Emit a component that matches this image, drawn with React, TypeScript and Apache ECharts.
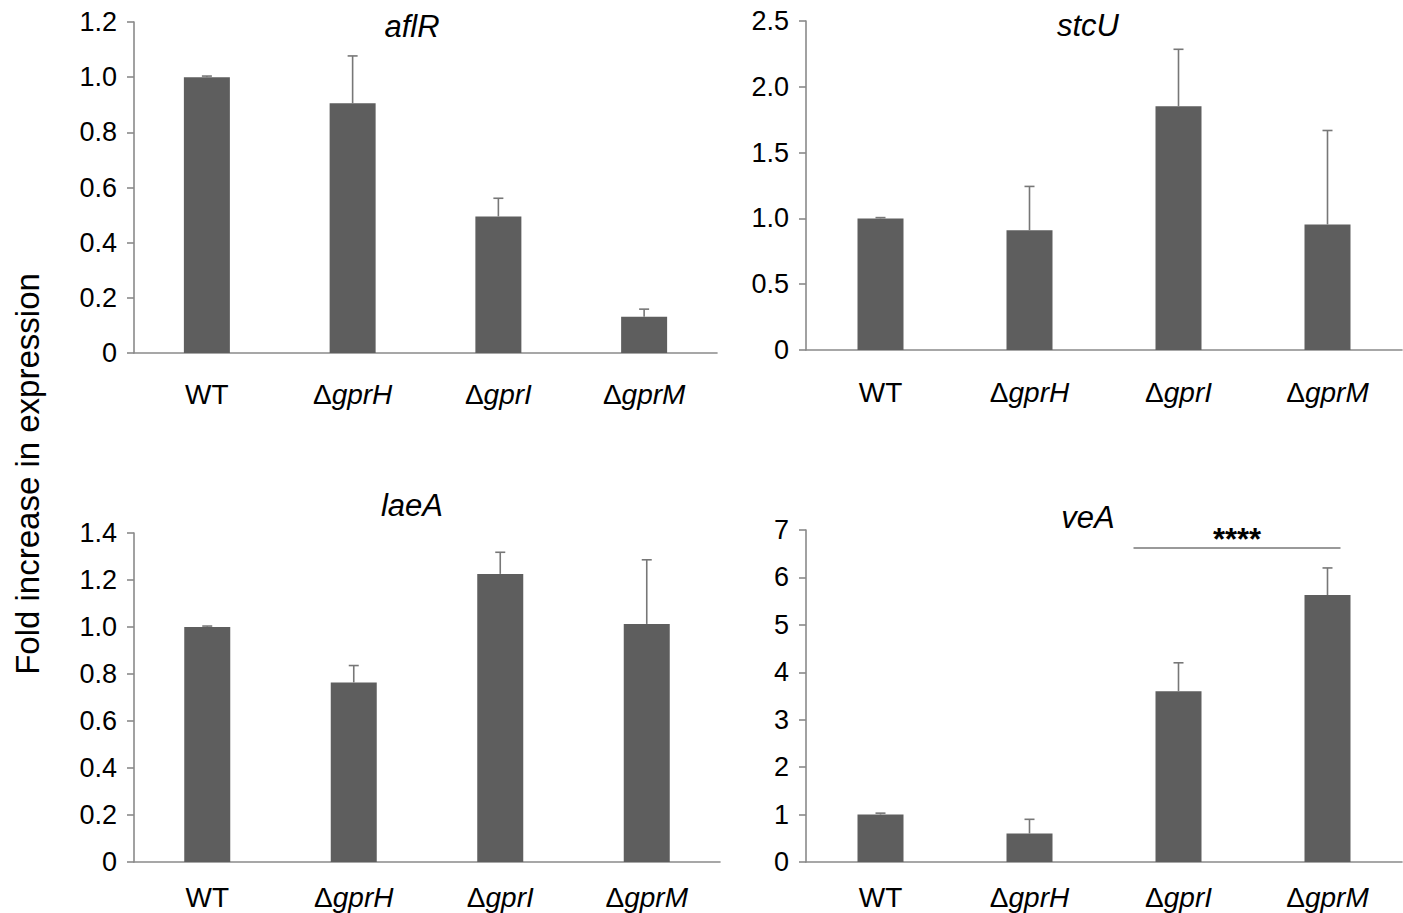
import { useEffect, useRef } from 'react';
import * as echarts from 'echarts';

const categories = ['WT', 'ΔgprH', 'ΔgprI', 'ΔgprM'];

const aflRMean = [1.0, 0.905, 0.495, 0.131];
const aflRTop = [1.004, 1.077, 0.561, 0.159];

const stcUMean = [1.0, 0.91, 1.852, 0.954];
const stcUTop = [1.006, 1.243, 2.285, 1.668];

const laeAMean = [1.0, 0.764, 1.226, 1.013];
const laeATop = [1.004, 0.836, 1.318, 1.286];

const veAMean = [1.0, 0.6, 3.6, 5.63];
const veATop = [1.03, 0.9, 4.2, 6.2];

const geneNames = ['aflR', 'stcU', 'laeA', 'veA'];
const yMax = [1.2, 2.5, 1.4, 7];
const yStep = [0.2, 0.5, 0.2, 1];

const sigPair = [2, 3];
const sigLevel = 6.62;
const sigLabel = '****';

const FONT = '"Liberation Sans", Arial, Helvetica, sans-serif';
const BAR = '#5e5e5e';
const AXIS = '#8a8a8a';
const TEXT = '#000';

export default function App() {
  const ref = useRef<HTMLDivElement>(null);
  useEffect(() => {
    if (!ref.current) return;
    const chart = echarts.init(ref.current, null, { renderer: 'svg' });
    const means = [aflRMean, stcUMean, laeAMean, veAMean];
    const tops = [aflRTop, stcUTop, laeATop, veATop];
    const grids = [
      { left: 134, top: 22, width: 583, height: 331 },
      { left: 806, top: 21, width: 596, height: 329 },
      { left: 134, top: 533, width: 586, height: 329 },
      { left: 806, top: 530, width: 596, height: 332 },
    ];
    const labelMargins = [27, 28, 21, 21];

    const xAxis = grids.map((_, i) => ({
      type: 'category',
      gridIndex: i,
      data: categories,
      axisLine: { show: true, lineStyle: { color: AXIS, width: 1.6 } },
      axisTick: { show: false },
      axisLabel: {
        margin: labelMargins[i],
        interval: 0,
        formatter: (v: string) => (v === 'WT' ? '{n|WT}' : '{n|Δ}{i|' + v.slice(1) + '}'),
        rich: {
          n: { fontFamily: FONT, fontSize: 28, color: TEXT },
          i: { fontFamily: FONT, fontSize: 28, fontStyle: 'italic', color: TEXT },
        },
      },
    }));

    const yAxis = grids.map((_, i) => ({
      type: 'value',
      gridIndex: i,
      min: 0,
      max: yMax[i],
      interval: yStep[i],
      splitLine: { show: false },
      axisLine: { show: true, lineStyle: { color: AXIS, width: 1.6 } },
      axisTick: { show: true, length: 7, lineStyle: { color: AXIS, width: 1.6 } },
      axisLabel: {
        margin: 17,
        fontFamily: FONT,
        fontSize: 27,
        color: TEXT,
        formatter: (v: number) => (v === 0 ? '0' : yStep[i] >= 1 ? String(v) : v.toFixed(1)),
      },
    }));

    const series: any[] = [];
    for (let i = 0; i < 4; i++) {
      series.push({
        type: 'bar',
        xAxisIndex: i,
        yAxisIndex: i,
        barWidth: 46,
        data: means[i],
        itemStyle: { color: BAR },
        z: 2,
      });
      series.push({
        type: 'custom',
        xAxisIndex: i,
        yAxisIndex: i,
        z: 3,
        data: means[i].map((m, k) => [k, m, tops[i][k]]),
        encode: { x: 0, y: [1, 2] },
        renderItem: (_p: any, api: any) => {
          const base = api.coord([api.value(0), api.value(1)]);
          const top = api.coord([api.value(0), api.value(2)]);
          const st = { stroke: '#777', lineWidth: 1.6 };
          return {
            type: 'group',
            children: [
              { type: 'line', shape: { x1: base[0], y1: base[1], x2: top[0], y2: top[1] }, style: st },
              { type: 'line', shape: { x1: top[0] - 5, y1: top[1], x2: top[0] + 5, y2: top[1] }, style: st },
            ],
          };
        },
      });
    }
    // significance bar on veA panel
    series.push({
      type: 'custom',
      xAxisIndex: 3,
      yAxisIndex: 3,
      z: 4,
      data: [[sigPair[0], sigPair[1], sigLevel]],
      encode: { x: [0, 1], y: 2 },
      renderItem: (_p: any, api: any) => {
        const a = api.coord([api.value(0), api.value(2)]);
        const b = api.coord([api.value(1), api.value(2)]);
        const x1 = a[0] - 45;
        const x2 = b[0] + 13;
        return {
          type: 'group',
          children: [
            { type: 'line', shape: { x1, y1: a[1], x2, y2: b[1] }, style: { stroke: '#777', lineWidth: 1.6 } },
            {
              type: 'text',
              x: (x1 + x2) / 2,
              y: a[1] - 9,
              style: {
                text: sigLabel,
                fontFamily: FONT,
                fontSize: 31,
                fontWeight: 'bold',
                fill: TEXT,
                align: 'center',
                verticalAlign: 'middle',
              },
            },
          ],
        };
      },
    });

    const titlePos = [
      [412, 26],
      [1088, 25],
      [412, 505],
      [1088, 517],
    ];
    const graphic: any[] = geneNames.map((g, i) => ({
      type: 'text',
      x: titlePos[i][0],
      y: titlePos[i][1],
      style: {
        text: g,
        fontFamily: FONT,
        fontSize: 31,
        fontStyle: 'italic',
        fill: TEXT,
        align: 'center',
        verticalAlign: 'middle',
      },
    }));
    graphic.push({
      type: 'text',
      x: 27,
      y: 474,
      rotation: Math.PI / 2,
      style: {
        text: 'Fold increase in expression',
        fontFamily: FONT,
        fontSize: 33,
        fill: TEXT,
        align: 'center',
        verticalAlign: 'middle',
      },
    });

    chart.setOption({
      animation: false,
      backgroundColor: '#fff',
      grid: grids.map((g) => ({ ...g, containLabel: false })),
      xAxis,
      yAxis,
      series,
      graphic,
    });
    return () => chart.dispose();
  }, []);
  return (
    <div
      ref={ref}
      style={{ position: 'fixed', left: 0, top: 0, width: 1403, height: 913, background: '#fff' }}
    />
  );
}
